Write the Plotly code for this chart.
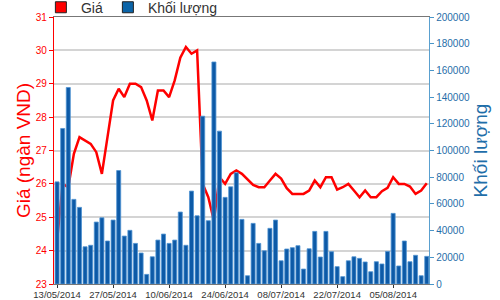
import plotly.graph_objects as go

dates = [
    "13/05/2014", "14/05/2014", "15/05/2014", "16/05/2014", "19/05/2014", "20/05/2014",
    "21/05/2014", "22/05/2014", "23/05/2014", "26/05/2014", "27/05/2014", "28/05/2014",
    "29/05/2014", "30/05/2014", "02/06/2014", "03/06/2014", "04/06/2014", "05/06/2014",
    "06/06/2014", "09/06/2014", "10/06/2014", "11/06/2014", "12/06/2014", "13/06/2014",
    "16/06/2014", "17/06/2014", "18/06/2014", "19/06/2014", "20/06/2014", "23/06/2014",
    "24/06/2014", "25/06/2014", "26/06/2014", "27/06/2014", "30/06/2014", "01/07/2014",
    "02/07/2014", "03/07/2014", "04/07/2014", "07/07/2014", "08/07/2014", "09/07/2014",
    "10/07/2014", "11/07/2014", "14/07/2014", "15/07/2014", "16/07/2014", "17/07/2014",
    "18/07/2014", "21/07/2014", "22/07/2014", "23/07/2014", "24/07/2014", "25/07/2014",
    "28/07/2014", "29/07/2014", "30/07/2014", "31/07/2014", "01/08/2014", "04/08/2014",
    "05/08/2014", "06/08/2014", "07/08/2014", "08/08/2014", "11/08/2014", "12/08/2014",
    "13/08/2014",
]

price = [
    24.3, 26.0, 25.9, 26.9, 27.4, 27.3, 27.2, 26.95, 26.3, 27.4,
    28.5, 28.85, 28.6, 29.0, 29.0, 28.9, 28.5, 27.9, 28.8, 28.8,
    28.6, 29.1, 29.78, 30.1, 29.9, 30.0, 26.0, 25.6, 24.9, 26.2,
    26.0, 26.3, 26.4, 26.3, 26.15, 25.97, 25.9, 25.9, 26.1, 26.3,
    26.16, 25.87, 25.7, 25.7, 25.7, 25.8, 26.1, 25.9, 26.2, 26.2,
    25.83, 25.9, 26.0, 25.8, 25.6, 25.8, 25.6, 25.6, 25.78, 25.88,
    26.2, 26.0, 26.0, 25.92, 25.7, 25.8, 26.02,
]

volume = [
    76500, 116500, 147200, 63400, 57400, 27900, 29000, 46400, 49600, 32200,
    47900, 85000, 35900, 40200, 30400, 23200, 7200, 20400, 32900, 37400,
    30400, 32900, 53900, 29000, 69600, 51100, 125700, 47400, 166300, 114500,
    64900, 72800, 83300, 48400, 6200, 45400, 30400, 24900, 41700, 47900,
    17400, 26200, 27200, 28700, 11200, 26400, 39400, 20200, 39400, 24200,
    13000, 5500, 17400, 20400, 19200, 16500, 9200, 16700, 15000, 24400,
    52900, 13500, 32200, 16700, 21500, 6200, 20700,
]

tick_dates = ["13/05/2014", "27/05/2014", "10/06/2014", "24/06/2014",
              "08/07/2014", "22/07/2014", "05/08/2014"]
price_ticks = [23, 24, 25, 26, 27, 28, 29, 30, 31]
volume_ticks = [0, 20000, 40000, 60000, 80000, 100000, 120000, 140000, 160000, 180000, 200000]

RED = "#ff0000"
BAR = "#0d5aa7"
BLUE_TXT = "#1f6ea9"
FONT = "Liberation Sans, Arial, sans-serif"

fig = go.Figure()

fig.add_trace(go.Bar(
    x=dates, y=volume, yaxis="y2", width=0.72,
    marker=dict(color=BAR, line=dict(color="#4f93d2", width=0.8)),
    showlegend=False,
))
fig.add_trace(go.Scatter(
    x=dates, y=price, mode="lines",
    line=dict(color=RED, width=2.5),
    showlegend=False,
))
# legend entries as coloured squares
fig.add_trace(go.Scatter(
    x=[None], y=[None], mode="markers", name="Giá",
    marker=dict(symbol="square", size=11, color=RED, line=dict(color="#222", width=1)),
))
fig.add_trace(go.Scatter(
    x=[None], y=[None], mode="markers", name="Khối lượng",
    marker=dict(symbol="square", size=11, color="#0b64a8", line=dict(color="#222", width=1)),
))

fig.update_layout(
    width=500, height=300,
    margin=dict(l=54, r=71, t=17, b=16, autoexpand=False),
    paper_bgcolor="white", plot_bgcolor="white",
    font=dict(family=FONT, size=10, color="#333"),
    legend=dict(
        orientation="h", x=-0.035, xanchor="left", y=1.035, yanchor="middle",
        font=dict(size=14, color="#333"), itemwidth=30, tracegroupgap=0,
        bgcolor="rgba(0,0,0,0)", itemclick=False,
    ),
    xaxis=dict(
        type="category", range=[-0.55, 66.4],
        tickmode="array", tickvals=tick_dates, ticktext=tick_dates,
        ticks="outside", ticklen=3, tickcolor="#333",
        tickfont=dict(size=9.5, color="#333"), ticklabelstandoff=-2,
        showgrid=False, showline=True, linecolor="#777", linewidth=1.2, mirror=True,
        zeroline=False,
    ),
    yaxis=dict(
        range=[23, 31], tickmode="array", tickvals=price_ticks,
        ticks="outside", ticklen=4, tickcolor=RED,
        tickfont=dict(size=10, color=RED),
        showline=True, linecolor=RED, linewidth=1.3,
        showgrid=True, gridcolor="#d4d4d4", gridwidth=1.5,
        zeroline=False,
        title=dict(text="Giá (ngàn VND)", font=dict(size=19, color=RED), standoff=0),
    ),
    yaxis2=dict(
        range=[0, 200000], overlaying="y", side="right",
        tickmode="array", tickvals=volume_ticks, tickformat="d",
        ticks="outside", ticklen=4, tickcolor="#4a95c8",
        tickfont=dict(size=10, color=BLUE_TXT),
        showline=True, linecolor="#5aa0cf", linewidth=1.3,
        showgrid=False, zeroline=False,
        title=dict(text="Khối lượng", font=dict(size=19, color=BLUE_TXT), standoff=2),
    ),
)

fig.write_html("out.html")
